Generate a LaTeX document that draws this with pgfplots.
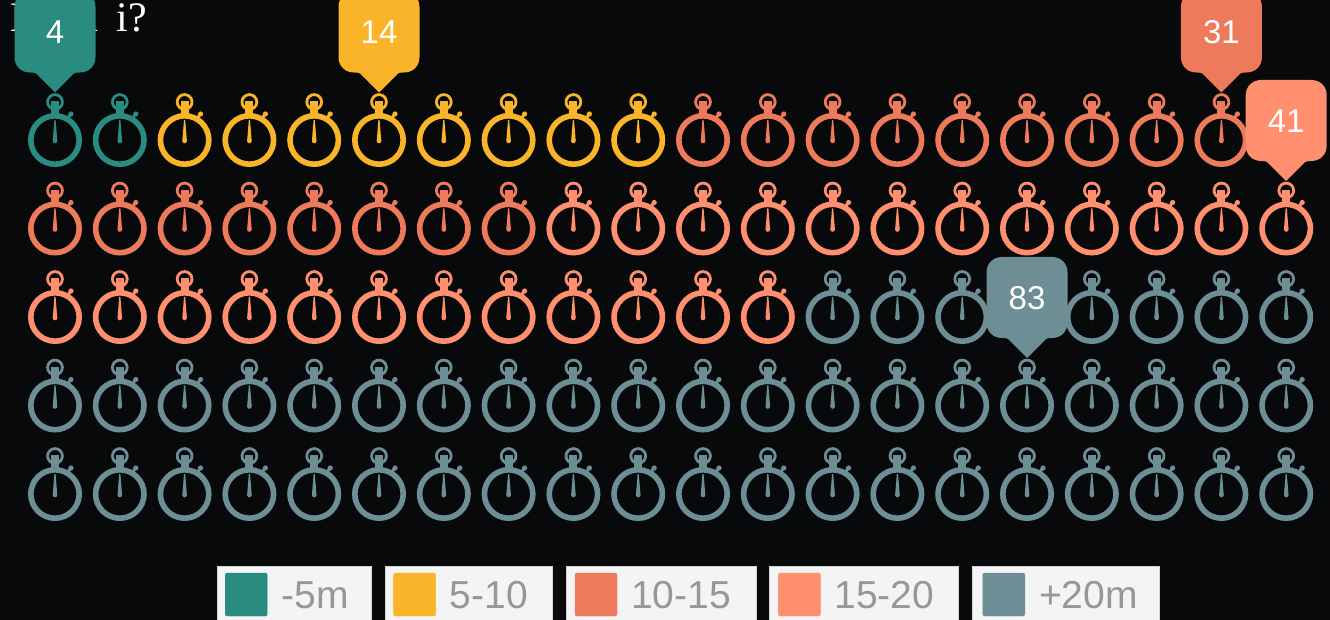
\documentclass[border=0pt]{standalone}
\usepackage{pgfplots}
\pgfplotsset{compat=1.18}
\usepackage{fontspec}
\setmainfont{Liberation Sans}
\newfontfamily\titlefont{Liberation Serif}
\definecolor{bg}{HTML}{08090B}
\definecolor{cA}{HTML}{2A8C80}
\definecolor{cB}{HTML}{F9B429}
\definecolor{cC}{HTML}{EE7A5C}
\definecolor{cD}{HTML}{FF8F6E}
\definecolor{cE}{HTML}{6E8E96}
\definecolor{lgtext}{HTML}{979797}
\definecolor{lgbox}{HTML}{F4F4F4}
\definecolor{lgline}{HTML}{D4D4D4}
\pgfdeclareplotmark{watch}{%
  \pgfsetlinewidth{5.6pt}%
  \pgfpathcircle{\pgfpointorigin}{24.2pt}\pgfusepath{stroke}%
  \pgfsetlinewidth{2.8pt}%
  \pgfpathcircle{\pgfpoint{0pt}{38pt}}{7.4pt}\pgfusepath{stroke}%
  \pgfpathrectangle{\pgfpoint{-4pt}{25pt}}{\pgfpoint{8pt}{13.5pt}}\pgfusepath{fill}%
  \pgfsetlinewidth{3pt}%
  \pgfpathmoveto{\pgfpoint{12.5pt}{21pt}}\pgfpathlineto{\pgfpoint{15.5pt}{26pt}}\pgfusepath{stroke}%
  \pgfpathcircle{\pgfpoint{16pt}{26pt}}{2.6pt}\pgfusepath{fill}%
  \pgfpathmoveto{\pgfpoint{-0.6pt}{20pt}}\pgfpathlineto{\pgfpoint{0.6pt}{20pt}}%
  \pgfpathlineto{\pgfpoint{2.3pt}{-1pt}}\pgfpathlineto{\pgfpoint{-2.3pt}{-1pt}}\pgfpathclose\pgfusepath{fill}%
  \pgfpathcircle{\pgfpoint{0pt}{-1pt}}{2.3pt}\pgfusepath{fill}%
}
\pgfdeclareplotmark{pin}{%
  \pgfpathmoveto{\pgfpoint{0pt}{47.5pt}}%
  \pgfpathlineto{\pgfpoint{-19pt}{66.5pt}}%
  \pgfpathcurveto{\pgfpoint{-20pt}{67.3pt}}{\pgfpoint{-22pt}{67.5pt}}{\pgfpoint{-25pt}{67.5pt}}%
  \pgfpathcurveto{\pgfpoint{-34pt}{67.5pt}}{\pgfpoint{-40.5pt}{74pt}}{\pgfpoint{-40.5pt}{83pt}}%
  \pgfpathlineto{\pgfpoint{-40.5pt}{133pt}}%
  \pgfpathcurveto{\pgfpoint{-40.5pt}{142pt}}{\pgfpoint{-34pt}{148.5pt}}{\pgfpoint{-25pt}{148.5pt}}%
  \pgfpathlineto{\pgfpoint{25pt}{148.5pt}}%
  \pgfpathcurveto{\pgfpoint{34pt}{148.5pt}}{\pgfpoint{40.5pt}{142pt}}{\pgfpoint{40.5pt}{133pt}}%
  \pgfpathlineto{\pgfpoint{40.5pt}{83pt}}%
  \pgfpathcurveto{\pgfpoint{40.5pt}{74pt}}{\pgfpoint{34pt}{67.5pt}}{\pgfpoint{25pt}{67.5pt}}%
  \pgfpathcurveto{\pgfpoint{22pt}{67.5pt}}{\pgfpoint{20pt}{67.3pt}}{\pgfpoint{19pt}{66.5pt}}%
  \pgfpathclose\pgfusepath{fill}%
}
\newcommand{\lgent}[2]{\makebox[#1][l]{\hspace*{14pt}\raisebox{-2pt}{#2}}}
\pgfplotsset{
  wt/.style={only marks,mark=watch,color=#1,mark options={color=#1},
    legend image code/.code={\fill[fill=#1,rounded corners=2pt] (0pt,-21.5pt) rectangle (42pt,21.5pt);}},
  pn/.style={forget plot,only marks,mark=pin,color=#1,mark options={color=#1},
    point meta=explicit symbolic,nodes near coords,
    every node near coord/.style={anchor=center,yshift=107.5pt,text=white,inner sep=0pt,font=\fontsize{33}{33}\selectfont}},
}
\begin{document}
\begin{tikzpicture}[x=1pt,y=1pt]
\clip (0,0) rectangle (1330,620);
\fill[bg] (0,0) rectangle (1330,620);
\node[anchor=base west,inner sep=0pt,text=white,font=\titlefont\fontsize{42}{42}\selectfont] at (10,588) {Main\hspace{18pt}i?};
% legend boxes
\foreach \a/\b in {217/371,385/552,566/756,769/958,972/1159}
  \filldraw[fill=lgbox,draw=lgline,line width=1pt] (\a,-5) rectangle (\b,53.5);
\begin{axis}[
  at={(0,0)},anchor=south west,scale only axis,width=1330pt,height=620pt,
  xmin=0.1512,xmax=20.676,ymin=-0.4237,ymax=6.582,
  hide axis,clip=false,
  legend columns=5,
  legend cell align=left,
  legend style={at={(0.16917,0.0411)},anchor=west,draw=none,fill=none,inner sep=0pt,outer sep=0pt,
    text=lgtext,font=\fontsize{39}{39}\selectfont,
    nodes={inner sep=0pt,outer sep=0pt}},
]
\addplot[wt=cA] coordinates {(1,5)(2,5)};
\addlegendentry{\lgent{126pt}{-5m}}
\addplot[wt=cB] coordinates {(3,5)(4,5)(5,5)(6,5)(7,5)(8,5)(9,5)(10,5)};
\addlegendentry{\lgent{139pt}{5-10}}
\addplot[wt=cC] coordinates {(11,5)(12,5)(13,5)(14,5)(15,5)(16,5)(17,5)(18,5)(19,5)(20,5)
  (1,4)(2,4)(3,4)(4,4)(5,4)(6,4)(7,4)(8,4)};
\addlegendentry{\lgent{161pt}{10-15}}
\addplot[wt=cD] coordinates {(9,4)(10,4)(11,4)(12,4)(13,4)(14,4)(15,4)(16,4)(17,4)(18,4)(19,4)(20,4)
  (1,3)(2,3)(3,3)(4,3)(5,3)(6,3)(7,3)(8,3)(9,3)(10,3)(11,3)(12,3)};
\addlegendentry{\lgent{162pt}{15-20}}
\addplot[wt=cE] coordinates {(13,3)(14,3)(15,3)(16,3)(17,3)(18,3)(19,3)(20,3)
  (1,2)(2,2)(3,2)(4,2)(5,2)(6,2)(7,2)(8,2)(9,2)(10,2)(11,2)(12,2)(13,2)(14,2)(15,2)(16,2)(17,2)(18,2)(19,2)(20,2)
  (1,1)(2,1)(3,1)(4,1)(5,1)(6,1)(7,1)(8,1)(9,1)(10,1)(11,1)(12,1)(13,1)(14,1)(15,1)(16,1)(17,1)(18,1)(19,1)(20,1)};
\addlegendentry{\lgent{120pt}{+20m}}
\addplot[pn=cA] coordinates {(1,5)[4]};
\addplot[pn=cB] coordinates {(6,5)[14]};
\addplot[pn=cC] coordinates {(19,5)[31]};
\addplot[pn=cD] coordinates {(20,4)[41]};
\addplot[pn=cE] coordinates {(16,2)[83]};
\end{axis}
\end{tikzpicture}
\end{document}
